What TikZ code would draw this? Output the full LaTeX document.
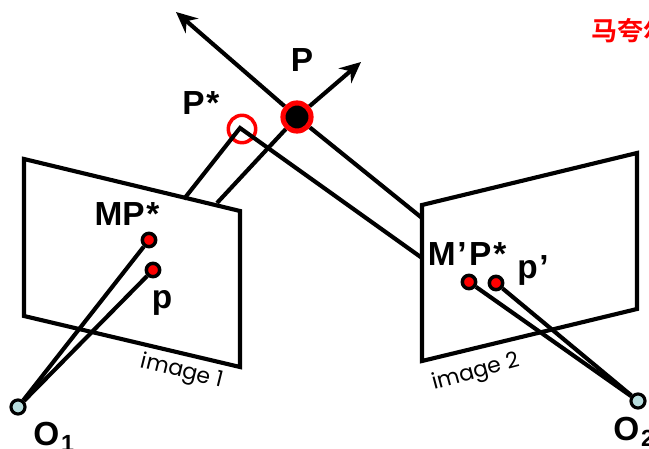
\documentclass[tikz,border=0pt]{standalone}
\usepackage{fontspec}
\setmainfont{Liberation Sans}
\newfontfamily\cjkfont{Noto Sans CJK SC}[BoldFont={* Bold}]
\newfontfamily\imgfont{Poppins}
\usetikzlibrary{arrows.meta}
\definecolor{camblue}{RGB}{184,221,222}
\tikzset{
  ray/.style={line width=2.35pt,black},
  axis/.style={ray,-{Stealth[length=12pt,width=11pt,inset=4pt]}},
  plane/.style={ray,line join=miter},
  reddot/.style={circle,draw=black,fill=red,line width=2pt,minimum size=7.6pt,inner sep=0pt},
  camdot/.style={circle,draw=black,fill=camblue,line width=1.8pt,minimum size=8pt,inner sep=0pt},
  ptlabel/.style={inner sep=0pt,font=\fontsize{19}{22}\selectfont\bfseries},
  imglabel/.style={inner sep=0pt,font=\fontsize{12.5}{14}\selectfont\imgfont}
}
\begin{document}
\begin{tikzpicture}[x=0.02cm,y=-0.02cm]
\useasboundingbox (0,0) rectangle (649,449);
% image planes
\draw[plane] (24,159)--(240,211)--(240,367)--(24,316)--cycle;
\draw[plane] (422,205)--(637,153)--(637,309)--(422,361)--cycle;
% free ends
\coordinate (axisa) at (176,12);
\coordinate (axisb) at (361,62);
\coordinate (hitpa) at (217,203);
\coordinate (hitpb) at (422,218);
\coordinate (apex) at (240,128);
\coordinate (hitsa) at (184,199);
\coordinate (hitsb) at (422,258);
% points
\node[circle,draw=red,fill=black,line width=2.9pt,minimum size=16pt,inner sep=0pt] (P) at (297,117) {};
\node[circle,draw=red,line width=2pt,minimum size=15.6pt,inner sep=0pt] (Pstar) at (242,129) {};
\node[reddot] (mp) at (149,240) {};
\node[reddot] (p) at (153,270) {};
\node[reddot] (mpp) at (469,282) {};
\node[reddot] (pp) at (496,283) {};
\node[camdot] (Oa) at (18,407) {};
\node[camdot] (Ob) at (638,401) {};
% rays
\draw[axis] (P)--(axisa);
\draw[axis] (P)--(axisb);
\draw[ray] (P)--(hitpa);
\draw[ray] (P)--(hitpb);
\draw[ray] (hitsa)--(apex)--(hitsb);
\draw[ray] (mp)--(Oa);
\draw[ray] (p)--(Oa);
\draw[ray] (mpp)--(Ob);
\draw[ray] (pp)--(Ob);
% labels
\node[ptlabel] (lP) at (302,60) {P};
\node[ptlabel] (lPstar) at (201,103) {P\kern1pt*};
\node[ptlabel] (lmp) at (127,214) {MP\kern1pt*};
\node[ptlabel] (lp) at (162,303) {p};
\node[ptlabel] (lmpp) at (467,254) {M\kern1pt’\kern1.5ptP\kern1pt*};
\node[ptlabel] (lpp) at (533,270) {p\kern1pt’};
\node[ptlabel,anchor=west] (lOa) at (33,437) {O\kern1pt\textsubscript{1}};
\node[ptlabel,anchor=west] (lOb) at (613,432) {O\kern1pt\textsubscript{2}};
\node[imglabel,rotate=-14] (lia) at (182,372) {image 1};
\node[imglabel,rotate=15] (lib) at (476,373) {image 2};
\node[anchor=west,inner sep=0pt,text=red,font=\fontsize{14.8}{16}\selectfont\cjkfont\bfseries] (ltitle) at (591,31) {马夸尔};
\end{tikzpicture}
\end{document}
